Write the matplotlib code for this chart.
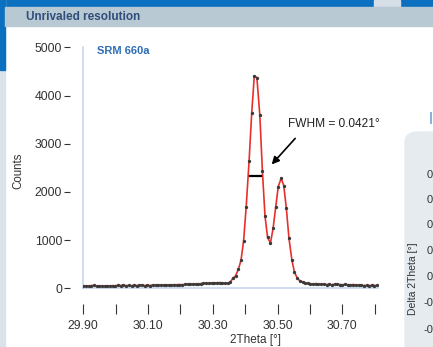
import matplotlib
matplotlib.use("Agg")
import matplotlib.pyplot as plt
from matplotlib.patches import Rectangle, FancyBboxPatch

plt.rcParams['font.family'] = ['Liberation Sans', 'DejaVu Sans']

W, H = 433, 347

# scan positions (2Theta, degrees) and measured counts
two_theta = [
    29.900, 29.908, 29.917, 29.925, 29.933, 29.941, 29.950, 29.958, 29.966, 29.974,
    29.983, 29.991, 29.999, 30.007, 30.016, 30.024, 30.032, 30.040, 30.049, 30.057,
    30.065, 30.073, 30.082, 30.090, 30.098, 30.106, 30.115, 30.123, 30.131, 30.139,
    30.148, 30.156, 30.164, 30.172, 30.181, 30.189, 30.197, 30.205, 30.214, 30.222,
    30.230, 30.238, 30.247, 30.255, 30.263, 30.271, 30.280, 30.288, 30.296, 30.304,
    30.313, 30.321, 30.329, 30.337, 30.346, 30.354, 30.362, 30.370, 30.379, 30.387,
    30.395, 30.403, 30.412, 30.420, 30.428, 30.436, 30.445, 30.453, 30.461, 30.469,
    30.478, 30.486, 30.494, 30.502, 30.511, 30.519, 30.527, 30.535, 30.544, 30.552,
    30.560, 30.568, 30.577, 30.585, 30.593, 30.601, 30.610, 30.618, 30.626, 30.634,
    30.643, 30.651, 30.659, 30.667, 30.676, 30.684, 30.692, 30.700, 30.709, 30.717,
    30.725, 30.733, 30.742, 30.750, 30.758, 30.766, 30.775, 30.783, 30.791, 30.799,
    30.808,
]
counts = [
    45, 50, 48, 55, 60, 48, 42, 50, 45, 52, 48,
    55, 50, 62, 58, 70, 55, 60, 52, 65, 58,
    60, 68, 55, 62, 58, 72, 60, 65, 62, 70,
    66, 70, 68, 75, 72, 78, 74, 80, 85, 82,
    88, 92, 90, 98, 102, 105, 100, 108, 112,
    115, 118, 112, 105,
    100, 131, 208, 256, 396, 583, 985, 1694, 2648, 3631,
    4408, 4371, 3600, 2440, 1506, 1054, 938, 1242, 1679, 2110,
    2283, 2131, 1658, 1042, 590, 333, 221, 158, 131,
    115, 100, 95, 90, 98, 85, 80, 88, 78, 82,
    75, 85, 90, 78, 72, 80, 75, 70, 78, 68,
    62, 65, 58, 60, 55, 62, 58, 60,
]
x_ticks = [29.9, 30.0, 30.1, 30.2, 30.3, 30.4, 30.5, 30.6, 30.7, 30.8]
x_labels = ['29.90', '', '30.10', '', '30.30', '', '30.50', '', '30.70', '']
y_ticks = [0, 1000, 2000, 3000, 4000, 5000]
fwhm_x = [30.415, 30.450]
fwhm_y = [2340, 2340]
side_labels = ['0', '0', '0', '0', '0', '-0', '-0']


def fx(px):
    return px / W


def fy(py):
    return 1 - py / H


fig = plt.figure(figsize=(W / 100, H / 100), dpi=100)
fig.patch.set_facecolor('white')

# page decoration around the chart
fig.patches.append(Rectangle((0, fy(7)), 1, 7 / H, transform=fig.transFigure,
                             color='#0a70bf', zorder=0))
fig.patches.append(Rectangle((fx(374), fy(7)), 26 / W, 7 / H, transform=fig.transFigure,
                             color='#d6dee7', zorder=0))
fig.patches.append(Rectangle((0, 0), 5 / W, 1, transform=fig.transFigure,
                             color='#dbe3ea', zorder=0))
fig.patches.append(Rectangle((0, fy(70)), 5 / W, 70 / H, transform=fig.transFigure,
                             color='#0a70bf', zorder=0))
fig.patches.append(Rectangle((fx(5), fy(26)), 1, 19 / H, transform=fig.transFigure,
                             color='#b9c9d4', zorder=0))
fig.patches.append(FancyBboxPatch((fx(405), fy(360)), 40 / W, 228 / H,
                                  boxstyle='round,pad=0,rounding_size=0.03',
                                  transform=fig.transFigure, color='#e6ebf0', zorder=0))
fig.text(fx(26), fy(16.5), 'Unrivaled resolution', fontsize=8.5, fontweight='bold',
         color='#2f4e7a', va='center', ha='left')

ax = fig.add_axes([fx(83.3), fy(288.3), (378 - 83.3) / W, (288.3 - 47.3) / H])
ax.set_facecolor('none')

ax.plot(two_theta, counts, color='#e8302a', lw=1.2, marker='o', markersize=1.4,
        markerfacecolor='#3a3a3a', markeredgecolor='#3a3a3a', zorder=3)
ax.plot(fwhm_x, fwhm_y, color='black', lw=1.6, zorder=4)

ax.annotate('', xy=(30.476, 2527), xytext=(30.560, 3152),
            arrowprops=dict(arrowstyle='-|>', color='black', lw=1.2, mutation_scale=11))

ax.set_xlim(29.9, 30.81)
ax.set_ylim(0, 5000)

# light blue axis lines, ticks sit detached from them
ax.plot([29.9, 30.81], [0, 0], color='#c8d7ee', lw=1.2, zorder=1, clip_on=False)
ax.plot([29.9, 29.9], [0, 5000], color='#c8d7ee', lw=1.2, zorder=1, clip_on=False)

for s in ['top', 'right']:
    ax.spines[s].set_visible(False)
ax.spines['left'].set_position(('outward', 9.4))
ax.spines['bottom'].set_position(('outward', 11.5))
ax.spines['left'].set_visible(False)
ax.spines['bottom'].set_visible(False)

ax.set_xticks(x_ticks)
ax.set_xticklabels(x_labels)
ax.set_yticks(y_ticks)
ax.tick_params(axis='x', length=7.5, width=0.8, pad=3.5, colors='#333333', labelsize=8.8)
ax.tick_params(axis='y', length=4.3, width=0.8, pad=1.5, colors='#333333', labelsize=8.8)

fig.text(fx(97), fy(51), 'SRM 660a', fontsize=8, fontweight='bold', color='#2d6db4',
         ha='left', va='center')
fig.text(fx(288.3), fy(124.3), 'FWHM = 0.0421°', fontsize=8.6, color='#222222',
         ha='left', va='center')
fig.text(fx(18), fy(171), 'Counts', fontsize=8.3, color='#333333', rotation=90,
         ha='center', va='center')
fig.text(fx(256), fy(340), '2Theta [°]', fontsize=8.5, color='#333333',
         ha='center', va='center')

# partially visible neighbouring chart
fig.text(fx(413), fy(279), 'Delta 2Theta [°]', fontsize=7.5, color='#333333',
         rotation=90, ha='center', va='center')
for lab, py in zip(side_labels, [175, 200, 225, 251, 277, 303, 330]):
    fig.text(fx(433), fy(py), lab, fontsize=8, color='#333333', ha='right', va='center')
fig.lines.append(plt.Line2D([fx(430.5), fx(430.5)], [fy(113), fy(123)],
                            transform=fig.transFigure, color='#8fb0d8', lw=1.5))

fig.savefig('out.png', dpi=100)
